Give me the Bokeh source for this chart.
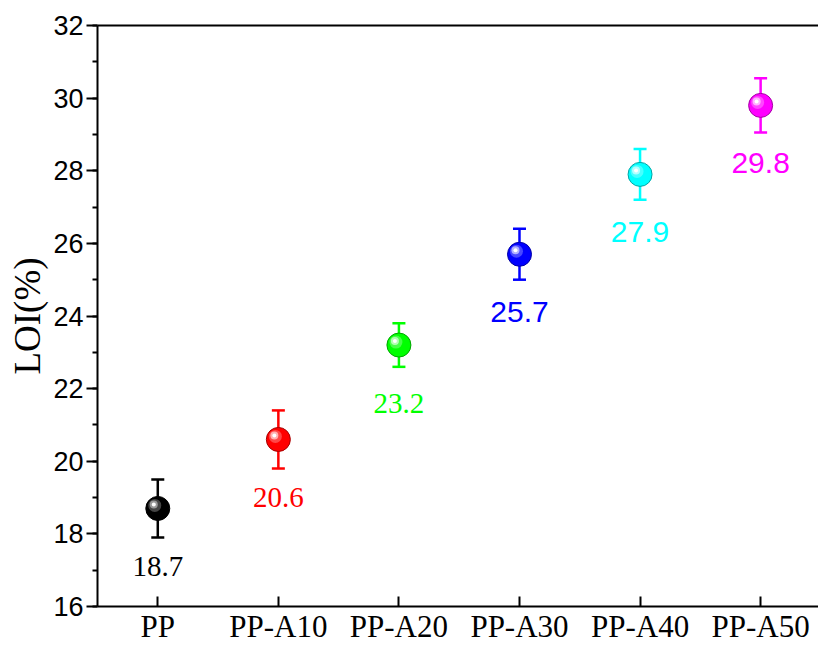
from bokeh.plotting import figure
from bokeh.models import ColumnDataSource, FixedTicker, LinearAxis, Range1d
from bokeh.transform import dodge
from bokeh.embed import file_html
from bokeh.resources import INLINE

categories = ["PP", "PP-A10", "PP-A20", "PP-A30", "PP-A40", "PP-A50"]
loi = [18.7, 20.6, 23.2, 25.7, 27.9, 29.8]
err = [0.8, 0.8, 0.6, 0.7, 0.7, 0.75]
y_ticks = [16, 18, 20, 22, 24, 26, 28, 30, 32]

colors = ["#000000", "#FF0000", "#00FF00", "#0000FF", "#00FFFF", "#FF00FF"]
label_fonts = ["Liberation Serif", "Liberation Serif", "Liberation Serif",
               "Liberation Sans", "Liberation Sans", "Liberation Sans"]
label_sizes = ["29px", "29px", "29px", "30px", "30px", "30px"]


def mix(c, t):
    r, g, b = int(c[1:3], 16), int(c[3:5], 16), int(c[5:7], 16)
    if t >= 0:
        r, g, b = [int(v + (255 - v) * t) for v in (r, g, b)]
    else:
        r, g, b = [int(v * (1 + t)) for v in (r, g, b)]
    return "#%02x%02x%02x" % (r, g, b)


xs = list(range(len(categories)))
src = ColumnDataSource(dict(
    x=xs, y=loi,
    lo=[v - e for v, e in zip(loi, err)],
    hi=[v + e for v, e in zip(loi, err)],
    color=colors,
    edge=[mix(c, -0.35) for c in colors],
    h1=[mix(c, 0.35) if c != "#000000" else "#555555" for c in colors],
    h2=[mix(c, 0.7) if c != "#000000" else "#999999" for c in colors],
    label=[f"{v:.1f}" for v in loi],
    font=label_fonts,
    fsize=label_sizes,
))

p = figure(width=818, height=646, output_backend="svg", toolbar_location=None,
           x_range=Range1d(-0.5, 5.48), y_range=Range1d(16, 32),
           min_border_left=97, min_border_right=0, min_border_top=25, min_border_bottom=39)
p.outline_line_color = None
p.grid.visible = False
p.background_fill_color = "white"
p.border_fill_color = "white"

# y axis
ya = p.yaxis[0]
ya.ticker = FixedTicker(ticks=y_ticks, minor_ticks=list(range(16, 33)))
ya.axis_line_width = 2
ya.major_tick_line_width = 2
ya.minor_tick_line_width = 2
ya.major_tick_out = 11
ya.major_tick_in = 0
ya.minor_tick_out = 5
ya.minor_tick_in = 0
ya.major_label_text_font = "Liberation Sans"
ya.major_label_text_font_size = "27px"
ya.major_label_text_color = "black"
ya.major_label_standoff = 3
ya.axis_label = "LOI(%)"
ya.axis_label_text_font = "Liberation Serif"
ya.axis_label_text_font_size = "37px"
ya.axis_label_text_font_style = "normal"
ya.axis_label_text_color = "black"
ya.axis_label_standoff = 2

# x axis
xa = p.xaxis[0]
xa.ticker = FixedTicker(ticks=xs, minor_ticks=[])
xa.major_label_overrides = {i: c for i, c in enumerate(categories)}
xa.axis_line_width = 2
xa.major_tick_line_width = 2
xa.major_tick_in = 10
xa.major_tick_out = 0
xa.minor_tick_line_color = None
xa.major_label_text_font = "Liberation Serif"
xa.major_label_text_font_size = "31px"
xa.major_label_text_color = "black"
xa.major_label_standoff = 2

# top line
top = LinearAxis(ticker=FixedTicker(ticks=[]), axis_line_width=2,
                 major_tick_line_color=None, minor_tick_line_color=None)
p.add_layout(top, "above")

# error bars
p.segment(x0="x", y0="lo", x1="x", y1="hi", line_color="color", line_width=2.5, source=src)
p.scatter(x="x", y="hi", marker="dash", size=13, line_color="color", line_width=2.5, source=src)
p.scatter(x="x", y="lo", marker="dash", size=13, line_color="color", line_width=2.5, source=src)

# spheres
dx = 0.0083
dy = 0.0275
p.scatter(x="x", y="y", size=24, fill_color="color", line_color="edge", line_width=1, source=src)
p.scatter(x=dodge("x", -3 * dx), y=dodge("y", 3 * dy), size=13, fill_color="h1",
          line_color=None, fill_alpha=0.8, source=src)
p.scatter(x=dodge("x", -4 * dx), y=dodge("y", 4 * dy), size=8, fill_color="h2",
          line_color=None, source=src)
p.scatter(x=dodge("x", -4 * dx), y=dodge("y", 4 * dy), size=4, fill_color="white",
          line_color=None, source=src)

# value labels
p.text(x="x", y="y", text="label", text_color="color", text_font="font",
       text_font_size="fsize", text_align="center", text_baseline="middle",
       y_offset=58, source=src)

open("out.html", "w").write(file_html(p, INLINE))
